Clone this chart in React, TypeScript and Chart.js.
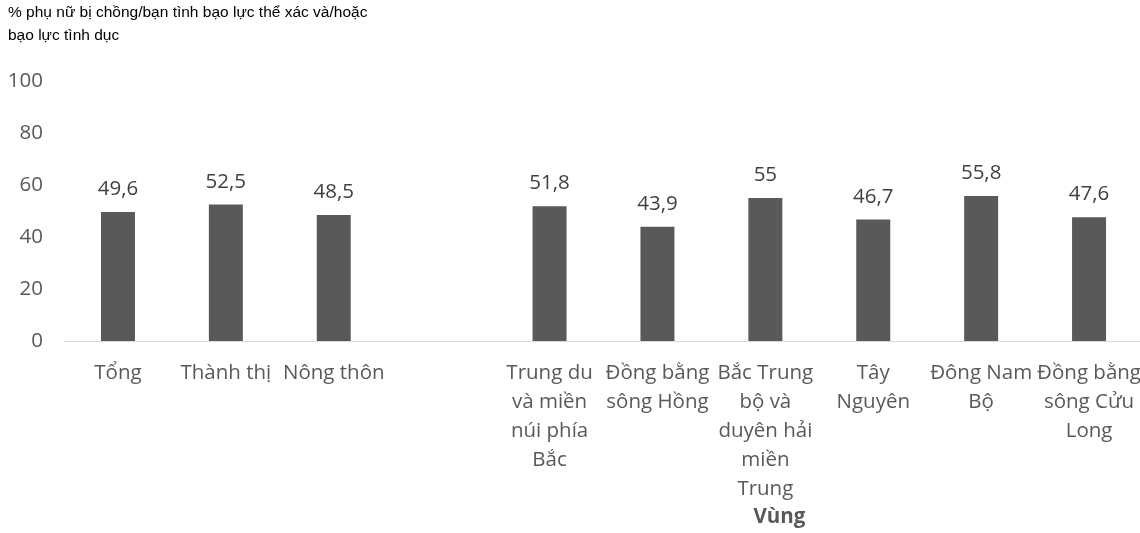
import React, { useEffect, useRef } from "react";
import { Chart, registerables } from "chart.js";

Chart.register(...registerables);

const categories: (string | string[])[] = [
  "Tổng",
  "Thành thị",
  "Nông thôn",
  "",
  ["Trung du", "và miền", "núi phía", "Bắc"],
  ["Đồng bằng", "sông Hồng"],
  ["Bắc Trung", "bộ và", "duyên hải", "miền", "Trung"],
  ["Tây", "Nguyên"],
  ["Đông Nam", "Bộ"],
  ["Đồng bằng", "sông Cửu", "Long"],
];
const values: (number | null)[] = [49.6, 52.5, 48.5, null, 51.8, 43.9, 55, 46.7, 55.8, 47.6];
const yTicks = [0, 20, 40, 60, 80, 100];
const titleLines = ["% phụ nữ bị chồng/bạn tình bạo lực thể xác và/hoặc", "bạo lực tình dục"];
const groupLabel = "Vùng";
const groupLabelAfterIndex = 6;

const FONT = '"Open Sans", sans-serif';
const TEXT = "#595959";

export default function App() {
  const ref = useRef<HTMLCanvasElement | null>(null);

  useEffect(() => {
    if (!ref.current) return;
    const valueLabels = {
      id: "valueLabels",
      afterDatasetsDraw(chart: any) {
        const ctx = chart.ctx;
        const meta = chart.getDatasetMeta(0);
        ctx.save();
        ctx.font = `20.5px ${FONT}`;
        ctx.fillStyle = "#404040";
        ctx.textAlign = "center";
        ctx.textBaseline = "alphabetic";
        meta.data.forEach((bar: any, i: number) => {
          const v = values[i];
          if (v === null || v === undefined) return;
          ctx.fillText(String(v).replace(".", ","), bar.x, bar.y - 17);
        });
        // group label
        const xs = chart.scales.x;
        ctx.font = `bold 20.5px ${FONT}`;
        ctx.fillStyle = TEXT;
        ctx.fillText(groupLabel, xs.getPixelForValue(groupLabelAfterIndex) + 14, 523);
        ctx.restore();
      },
    };

    const chart = new Chart(ref.current, {
      type: "bar",
      data: {
        labels: categories as any,
        datasets: [
          {
            data: values as any,
            backgroundColor: "#595959",
            categoryPercentage: 1,
            barPercentage: 0.315,
          },
        ],
      },
      options: {
        responsive: false,
        animation: false,
        devicePixelRatio: 1,
        layout: { padding: { top: 81, right: 17, left: 0, bottom: 0 } },
        plugins: {
          legend: { display: false },
          tooltip: { enabled: false },
          title: { display: false },
        },
        scales: {
          x: {
            grid: { display: false, drawTicks: false },
            border: { display: true, color: "#d9d9d9", width: 1 },
            ticks: {
              color: TEXT,
              font: { family: FONT, size: 20.5, lineHeight: "29px" as any },
              padding: 18,
              maxRotation: 0,
              minRotation: 0,
              autoSkip: false,
            },
            afterFit: (s: any) => {
              s.height = 533 - 341;
            },
          },
          y: {
            min: 0,
            max: 100,
            grid: { display: false, drawTicks: false },
            border: { display: false },
            ticks: {
              color: TEXT,
              font: { family: FONT, size: 20.5 },
              padding: 21,
            },
            afterBuildTicks: (s: any) => {
              s.ticks = yTicks.map((v) => ({ value: v }));
            },
            afterFit: (s: any) => {
              s.width = 64;
            },
          },
        },
      },
      plugins: [valueLabels],
    });
    return () => chart.destroy();
  }, []);

  return (
    <div
      style={{
        position: "fixed",
        left: 0,
        top: 0,
        width: 1140,
        height: 533,
        overflow: "hidden",
        background: "#fff",
      }}
    >
      <canvas
        ref={ref}
        width={1160}
        height={533}
        style={{ position: "absolute", left: 0, top: 0, width: 1160, height: 533 }}
      />
      <div
        style={{
          position: "absolute",
          left: 8,
          top: 0,
          fontFamily: '"Liberation Sans", Arial, sans-serif',
          fontSize: 15.5,
          lineHeight: "23px",
          color: "#000",
          whiteSpace: "nowrap",
        }}
      >
        {titleLines.map((t, i) => (
          <div key={i}>{t}</div>
        ))}
      </div>
    </div>
  );
}
